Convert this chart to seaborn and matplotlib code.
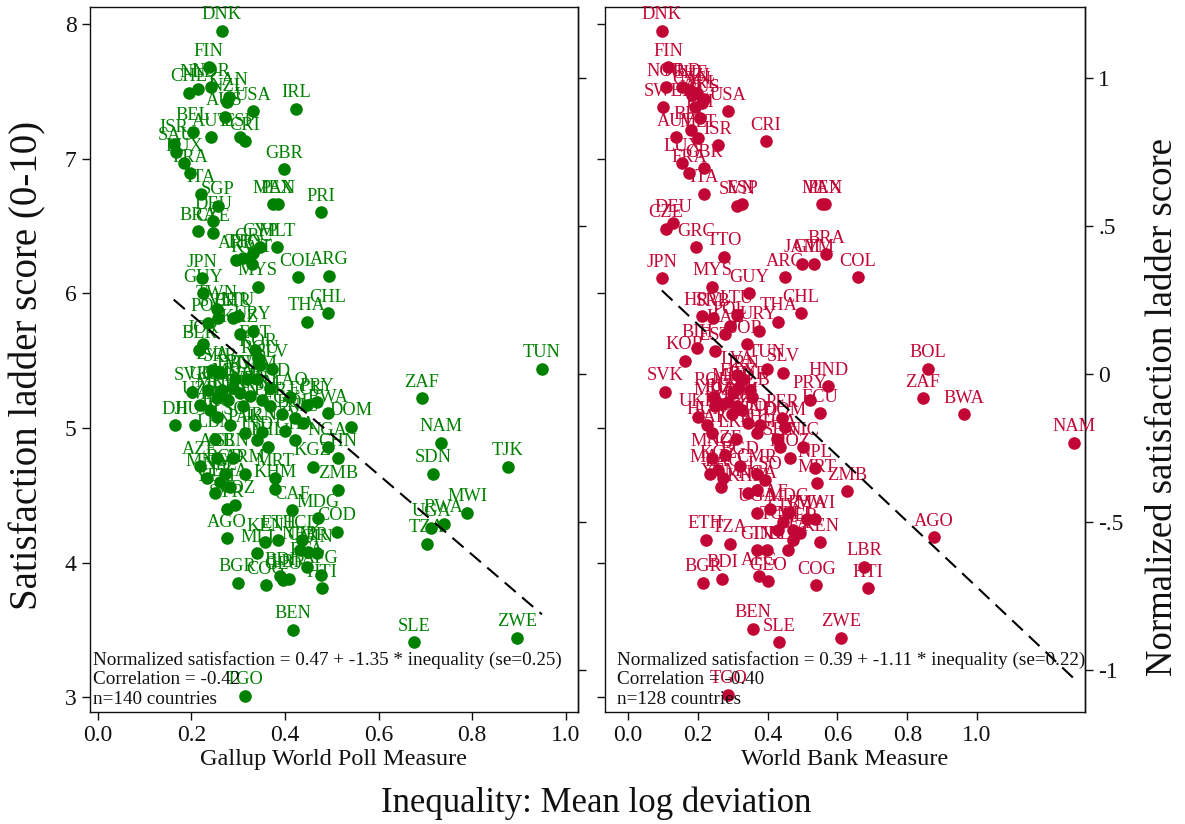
import numpy as np
import pandas as pd
import matplotlib
matplotlib.use("Agg")
import matplotlib.pyplot as plt
import seaborn as sns

# ---------------- data: Gallup World Poll measure (left panel) ----------------
gallup_codes = [
    "DNK", "FIN", "NOR", "NLD", "CHE", "CAN", "NZL", "USA", "IRL", "AUS",
    "BEL", "AUT", "ESP", "CRI", "ISR", "SAU", "LUX", "FRA", "GBR", "ITA",
    "SGP", "MEX", "PAN", "PRI", "DEU", "BRA", "CZE", "GRC", "MLT", "CYP",
    "TTO", "KWT", "ARE", "COL", "ARG", "JPN", "GUY", "MYS", "TWN", "SVN",
    "LTU", "BHR", "POL", "KAZ", "URY", "THA", "CHL", "JOR", "BLR", "EST",
    "KOR", "ROU", "SLV", "LVA", "SRB", "VNM", "HRV", "GTM", "HND", "SVK",
    "UKR", "RUS", "MDA", "BIH", "LAO", "ECU", "PRY", "MKD", "IDN", "PER",
    "EGY", "BOL", "NIC", "BWA", "DOM", "DJI", "HUN", "IRQ", "PAK", "IND",
    "IRN", "PHL", "GHA", "KGZ", "CHN", "NGA", "LBN", "ALB", "AZE", "SEN",
    "ARM", "BGD", "MNG", "NPL", "LKA", "YEM", "MRT", "KHM", "ZMB", "CAF",
    "MDG", "COD", "SYR", "MOZ", "AGO", "KEN", "ETH", "MLI", "TCD", "NER",
    "CMR", "GIN", "BFA", "BGR", "COG", "BDI", "GEO", "LBR", "AFG", "HTI",
    "BEN", "TGO", "ZAF", "NAM", "SDN", "TJK", "MWI", "RWA", "UGA", "TZA",
    "SLE", "ZWE", "TUN", "UZB", "MNE", "TUR", "VEN", "JAM", "LSO", "CIV",
]
gallup_ineq = [
    0.265, 0.237, 0.241, 0.214, 0.194, 0.280, 0.276, 0.331, 0.423, 0.271,
    0.203, 0.241, 0.303, 0.314, 0.162, 0.167, 0.184, 0.197, 0.397, 0.220,
    0.256, 0.374, 0.385, 0.476, 0.246, 0.214, 0.246, 0.331, 0.382, 0.346,
    0.310, 0.329, 0.296, 0.427, 0.494, 0.222, 0.224, 0.342, 0.254, 0.256,
    0.299, 0.288, 0.235, 0.303, 0.331, 0.447, 0.491, 0.224, 0.216, 0.335,
    0.342, 0.346, 0.372, 0.244, 0.261, 0.318, 0.293, 0.340, 0.368, 0.201,
    0.235, 0.265, 0.288, 0.303, 0.410, 0.447, 0.468, 0.254, 0.310, 0.368,
    0.393, 0.421, 0.438, 0.491, 0.541, 0.165, 0.207, 0.254, 0.314, 0.340,
    0.350, 0.363, 0.421, 0.459, 0.513, 0.491, 0.250, 0.254, 0.218, 0.288,
    0.314, 0.271, 0.233, 0.261, 0.282, 0.250, 0.378, 0.378, 0.513, 0.415,
    0.470, 0.511, 0.276, 0.293, 0.276, 0.357, 0.385, 0.340, 0.436, 0.432,
    0.449, 0.468, 0.446, 0.299, 0.359, 0.389, 0.395, 0.408, 0.476, 0.478,
    0.417, 0.314, 0.692, 0.733, 0.716, 0.876, 0.789, 0.739, 0.713, 0.703,
    0.675, 0.895, 0.949, 0.218, 0.239, 0.278, 0.325, 0.350, 0.282, 0.400,
]
gallup_sat = [
    7.95, 7.68, 7.53, 7.52, 7.49, 7.46, 7.42, 7.35, 7.37, 7.31,
    7.20, 7.16, 7.16, 7.13, 7.11, 7.05, 6.97, 6.89, 6.92, 6.74,
    6.65, 6.66, 6.66, 6.60, 6.54, 6.46, 6.45, 6.30, 6.34, 6.34,
    6.26, 6.22, 6.25, 6.12, 6.13, 6.11, 6.00, 6.05, 5.88, 5.82,
    5.83, 5.82, 5.78, 5.70, 5.72, 5.79, 5.85, 5.62, 5.58, 5.58,
    5.52, 5.47, 5.44, 5.43, 5.41, 5.36, 5.36, 5.36, 5.30, 5.27,
    5.28, 5.28, 5.30, 5.26, 5.23, 5.17, 5.19, 5.22, 5.16, 5.16,
    5.10, 5.07, 5.04, 5.11, 5.01, 5.02, 5.02, 5.08, 4.96, 4.91,
    4.97, 4.86, 4.91, 4.71, 4.78, 4.86, 4.92, 4.78, 4.72, 4.78,
    4.66, 4.66, 4.63, 4.60, 4.56, 4.52, 4.63, 4.55, 4.54, 4.39,
    4.33, 4.23, 4.40, 4.43, 4.18, 4.15, 4.17, 4.07, 4.17, 4.09,
    4.08, 4.07, 3.97, 3.85, 3.83, 3.90, 3.87, 3.88, 3.91, 3.81,
    3.50, 3.01, 5.22, 4.89, 4.66, 4.71, 4.37, 4.29, 4.26, 4.14,
    3.41, 3.44, 5.44, 5.17, 5.13, 5.21, 5.24, 5.21, 5.02, 4.98,
]

# ---------------- data: World Bank measure (right panel) ----------------
wb_codes = [
    "DNK", "FIN", "NOR", "NLD", "CHE", "CAN", "NZL", "IRL", "AUS", "SWE",
    "USA", "ISL", "PRI", "BEL", "AUT", "MLT", "ISR", "CRI", "LUX", "GBR",
    "FRA", "ITA", "SVN", "ESP", "MEX", "PAN", "DEU", "CZE", "GRC", "TTO",
    "BRA", "JAM", "GTM", "ARG", "COL", "JPN", "MYS", "GUY", "CHL", "THA",
    "HRV", "SRB", "LTU", "POL", "KAZ", "URY", "BIH", "EST", "KOR", "JOR",
    "TUN", "SLV", "SVK", "HND", "PRY", "ECU", "LVA", "IRN", "EGY", "TUR",
    "MKD", "ALB", "ROU", "MDA", "RUS", "VNM", "IDN", "ARM", "UKR", "HUN",
    "PAK", "PER", "DOM", "IND", "PHL", "GHA", "NIC", "SEN", "MOZ", "LKA",
    "MNG", "AZE", "BGD", "KGZ", "MAR", "LAO", "YEM", "CMR", "NPL", "MRT",
    "ZMB", "KHM", "NGA", "CAF", "UGA", "MDG", "RWA", "MWI", "CIV", "TCD",
    "MLI", "NER", "BFA", "KEN", "ETH", "TZA", "GIN", "TJK", "SDN", "BGR",
    "BDI", "AFG", "GEO", "COG", "BEN", "SLE", "ZWE", "TGO", "BOL", "ZAF",
    "BWA", "NAM", "AGO", "LBR", "HTI", "UZB", "COD", "LSO",
]
wb_ineq = [
    0.097, 0.115, 0.109, 0.155, 0.178, 0.183, 0.198, 0.218, 0.212, 0.100,
    0.287, 0.192, 0.206, 0.181, 0.138, 0.201, 0.258, 0.395, 0.155, 0.218,
    0.175, 0.218, 0.312, 0.327, 0.556, 0.564, 0.129, 0.109, 0.195, 0.275,
    0.567, 0.499, 0.533, 0.450, 0.659, 0.097, 0.241, 0.347, 0.496, 0.430,
    0.212, 0.244, 0.312, 0.292, 0.278, 0.375, 0.198, 0.249, 0.163, 0.341,
    0.398, 0.444, 0.106, 0.573, 0.521, 0.550, 0.312, 0.330, 0.315, 0.350,
    0.301, 0.355, 0.244, 0.249, 0.269, 0.312, 0.327, 0.298, 0.201, 0.226,
    0.241, 0.441, 0.450, 0.378, 0.370, 0.427, 0.501, 0.436, 0.464, 0.309,
    0.241, 0.278, 0.321, 0.258, 0.235, 0.272, 0.266, 0.370, 0.536, 0.542,
    0.628, 0.344, 0.370, 0.407, 0.370, 0.458, 0.513, 0.536, 0.444, 0.430,
    0.473, 0.493, 0.473, 0.550, 0.223, 0.292, 0.370, 0.398, 0.458, 0.215,
    0.269, 0.375, 0.401, 0.539, 0.358, 0.433, 0.610, 0.287, 0.860, 0.845,
    0.963, 1.278, 0.877, 0.676, 0.688, 0.287, 0.344, 0.393,
]
wb_sat = [
    7.95, 7.68, 7.53, 7.53, 7.51, 7.47, 7.49, 7.44, 7.41, 7.38,
    7.35, 7.38, 7.30, 7.21, 7.16, 7.15, 7.10, 7.13, 6.97, 6.93,
    6.89, 6.74, 6.65, 6.66, 6.66, 6.66, 6.52, 6.48, 6.34, 6.27,
    6.29, 6.22, 6.22, 6.12, 6.12, 6.11, 6.05, 6.00, 5.85, 5.79,
    5.83, 5.82, 5.84, 5.76, 5.70, 5.72, 5.59, 5.57, 5.50, 5.62,
    5.44, 5.41, 5.27, 5.31, 5.21, 5.11, 5.39, 5.36, 5.30, 5.28,
    5.26, 5.23, 5.23, 5.16, 5.18, 5.16, 5.13, 5.10, 5.08, 5.02,
    4.96, 5.07, 5.01, 5.02, 4.96, 4.92, 4.86, 4.86, 4.78, 4.92,
    4.78, 4.80, 4.72, 4.69, 4.66, 4.63, 4.56, 4.66, 4.70, 4.59,
    4.53, 4.52, 4.54, 4.40, 4.37, 4.37, 4.32, 4.32, 4.30, 4.24,
    4.24, 4.22, 4.17, 4.15, 4.17, 4.14, 4.09, 4.09, 4.09, 3.85,
    3.88, 3.90, 3.86, 3.83, 3.51, 3.41, 3.44, 3.02, 5.44, 5.22,
    5.10, 4.89, 4.19, 3.97, 3.81, 5.19, 5.04, 4.61,
]

# regression summaries (normalized satisfaction)
gallup_fit = {"a": 0.47, "b": -1.35, "se": 0.25, "r": -0.42, "n": 140}
wb_fit = {"a": 0.39, "b": -1.11, "se": 0.22, "r": -0.40, "n": 128}

# normalization of the satisfaction ladder score
SAT_MEAN, SAT_SD = 5.40, 2.2

sat_ticks = [3, 4, 5, 6, 7, 8]
norm_ticks = [-1, -0.5, 0, 0.5, 1]
norm_tick_labels = ["-1", "-.5", "0", ".5", "1"]
x_ticks = [0.0, 0.2, 0.4, 0.6, 0.8, 1.0]
x_tick_labels = ["0.0", "0.2", "0.4", "0.6", "0.8", "1.0"]

GREEN = "#008000"
RED = "#c10534"
INK = "#111111"

sns.set_style("ticks")
plt.rcParams["font.family"] = ["Liberation Serif", "DejaVu Serif"]
plt.rcParams["axes.linewidth"] = 1.0
plt.rcParams["text.color"] = INK
plt.rcParams["axes.labelcolor"] = INK
plt.rcParams["xtick.color"] = INK
plt.rcParams["ytick.color"] = INK


def s2n(s):
    return (np.asarray(s) - SAT_MEAN) / SAT_SD


def n2s(n):
    return np.asarray(n) * SAT_SD + SAT_MEAN


fig = plt.figure(figsize=(11.85, 8.24), dpi=100)
ax1 = fig.add_axes([0.0759, 0.1359, 0.4118, 0.8556])
ax2 = fig.add_axes([0.5105, 0.1359, 0.4051, 0.8556])

panels = [
    (ax1, gallup_codes, gallup_ineq, gallup_sat, gallup_fit, GREEN,
     "Gallup World Poll Measure", (-0.017, 1.026), 0.006),
    (ax2, wb_codes, wb_ineq, wb_sat, wb_fit, RED,
     "World Bank Measure", (-0.066, 1.309), 0.025),
]

for i, (ax, codes, xs, ys, fit, col, xlab, xlim, tx) in enumerate(panels):
    df = pd.DataFrame({"code": codes, "ineq": xs, "sat": ys})
    sns.scatterplot(data=df, x="ineq", y="sat", color=col, s=82,
                    linewidth=0, ax=ax, zorder=3)
    for c, xv, yv in zip(df["code"], df["ineq"], df["sat"]):
        ax.annotate(c, (xv, yv), xytext=(0, 11.5), textcoords="offset points",
                    ha="center", va="center", color=col, fontsize=13.2,
                    zorder=4)
    # fitted line
    lx = np.array([df["ineq"].min(), df["ineq"].max()])
    ly = n2s(fit["a"] + fit["b"] * lx)
    ax.plot(lx, ly, color="black", lw=1.5, dashes=(7, 4), zorder=5)

    ax.set_xlim(*xlim)
    ax.set_ylim(2.89, 8.126)
    ax.set_xticks(x_ticks)
    ax.set_xticklabels(x_tick_labels)
    ax.set_yticks(sat_ticks)
    ax.set_xlabel(xlab, fontsize=17.5, labelpad=2)
    ax.set_ylabel("")
    ax.tick_params(direction="out", length=6, width=1, labelsize=17,
                   color=INK)
    for sp in ax.spines.values():
        sp.set_visible(True)
        sp.set_color(INK)

    sec = ax.secondary_yaxis("right", functions=(s2n, n2s))
    sec.set_yticks(norm_ticks)
    sec.tick_params(direction="out", length=6, width=1, labelsize=17,
                    color=INK)
    sec.spines["right"].set_color(INK)

    txt = [
        f"Normalized satisfaction = {fit['a']:.2f} + {fit['b']:.2f} * inequality (se={fit['se']:.2f})",
        f"Correlation = {fit['r']:.2f}",
        f"n={fit['n']} countries",
    ]
    for k, (t, yy) in enumerate(zip(txt, [0.0738, 0.0468, 0.0184])):
        ax.text(tx, yy, t, transform=ax.transAxes, fontsize=13.8,
                ha="left", va="center", color=INK, zorder=6)

    if i == 0:
        ax.set_yticklabels([str(v) for v in sat_ticks])
        sec.set_yticklabels([])
    else:
        ax.set_yticklabels([])
        sec.set_yticklabels(norm_tick_labels)

fig.text(0.0236, 0.557, "Satisfaction ladder score (0-10)", rotation=90,
         ha="center", va="center", fontsize=28)
fig.text(0.9814, 0.506, "Normalized satisfaction ladder score", rotation=90,
         ha="center", va="center", fontsize=26.5)
fig.text(0.503, 0.0255, "Inequality: Mean log deviation", ha="center",
         va="center", fontsize=25)

fig.savefig("out.png", dpi=100)
